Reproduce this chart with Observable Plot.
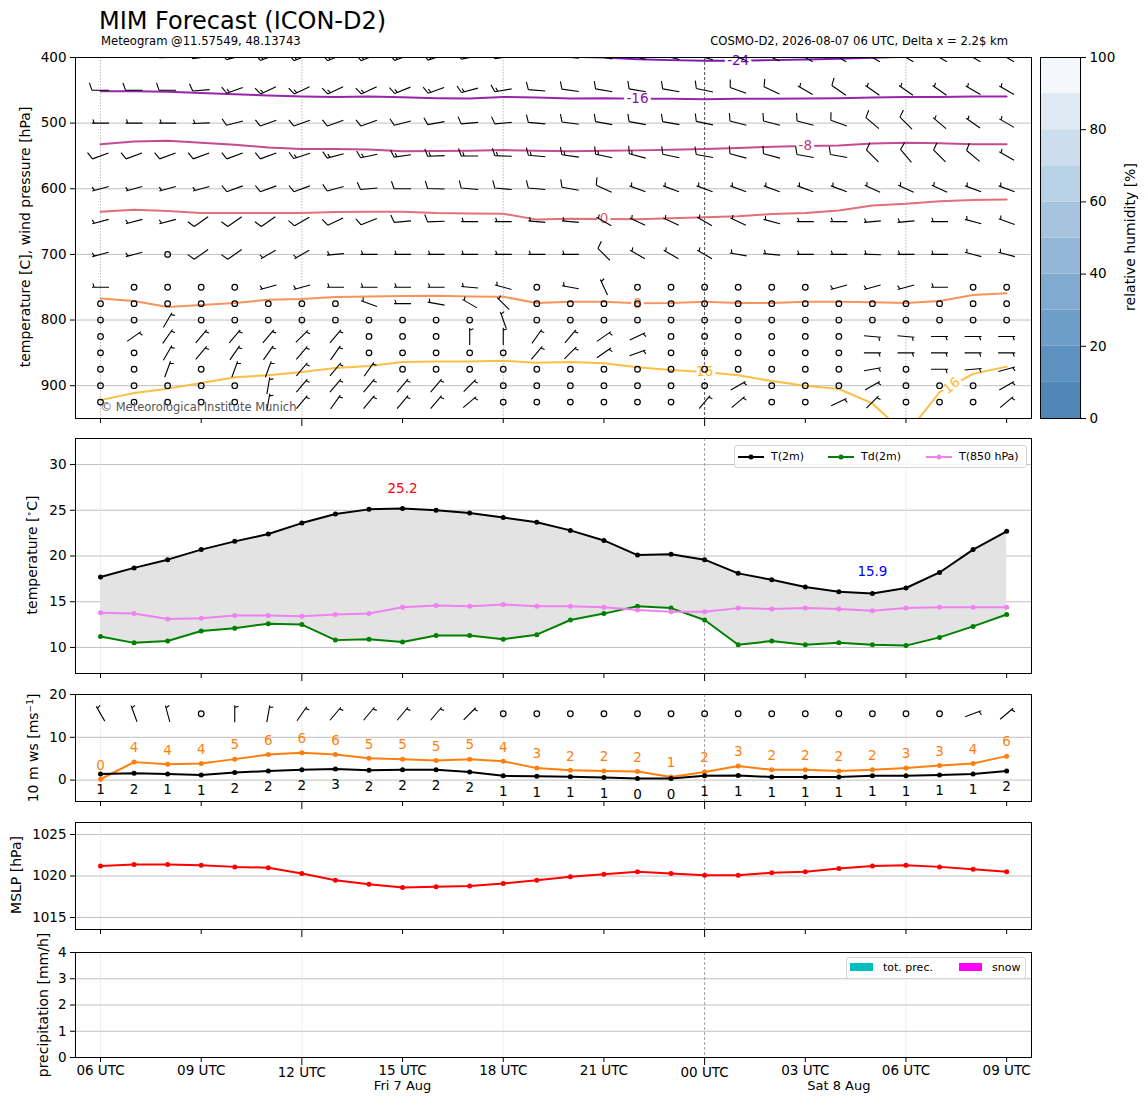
<!DOCTYPE html>
<html><head><meta charset="utf-8">
<script src="https://cdn.jsdelivr.net/npm/d3@7"></script>
<script src="https://cdn.jsdelivr.net/npm/@observablehq/plot@0.6"></script>
<style>
body{margin:0;background:#fff}
#fig{position:relative;width:1148px;height:1105px;font-family:"DejaVu Sans",sans-serif;color:#000;overflow:hidden;background:#fff}
.txt{position:absolute;white-space:nowrap;line-height:1}
.ylab{position:absolute;white-space:nowrap;font-size:14px;line-height:1;transform:translate(-50%,-50%) rotate(-90deg)}
.legend{position:absolute;border:1px solid #d5d5d5;border-radius:3px;background:rgba(255,255,255,0.85);font-size:11px;box-sizing:border-box}
.legend span{position:absolute;white-space:nowrap;line-height:1}
</style></head>
<body><div id="fig"></div>
<script>
// ---------------- data ----------------
const startTime = "2026-08-07T06:00Z";
const nHours = 28;

// 2 m temperature, dew point, 850 hPa temperature [°C]
const t2m  = [17.7,18.7,19.6,20.7,21.6,22.4,23.6,24.6,25.1,25.2,25.0,24.7,24.2,23.7,22.8,21.7,20.1,20.2,19.6,18.1,17.4,16.6,16.1,15.9,16.5,18.2,20.7,22.7];
const td2m = [11.2,10.5,10.7,11.8,12.1,12.6,12.5,10.8,10.9,10.6,11.3,11.3,10.9,11.4,13.0,13.7,14.5,14.3,13.0,10.3,10.7,10.3,10.5,10.3,10.2,11.1,12.3,13.6];
const t850 = [13.8,13.7,13.1,13.2,13.5,13.5,13.4,13.6,13.7,14.4,14.6,14.5,14.7,14.5,14.5,14.4,14.1,13.9,13.9,14.3,14.2,14.3,14.2,14.0,14.3,14.4,14.4,14.4];

// 10 m wind [m/s]: mean (black) and gust (orange)
const wsMean = [1.4,1.6,1.4,1.2,1.8,2.1,2.4,2.6,2.3,2.4,2.4,1.9,1.0,0.9,0.8,0.6,0.4,0.4,1.0,1.1,0.7,0.7,0.7,1.0,1.0,1.2,1.4,2.1];
const wsGust = [0.2,4.2,3.7,3.9,4.9,6.0,6.4,6.0,5.1,4.9,4.6,4.9,4.4,2.8,2.3,2.1,2.0,0.7,1.9,3.3,2.4,2.4,2.1,2.4,2.8,3.4,3.9,5.6];
// 10 m wind barbs: direction [deg], speed [kt] (0 = calm)
const dir10 = [330,340,345,0,360,10,35,40,40,40,40,45,0,0,0,0,0,0,0,0,0,0,0,0,0,0,70,50];
const spd10 = [5,5,5,0,5,5,5,5,5,5,5,5,0,0,0,0,0,0,0,0,0,0,0,0,0,0,5,5];
const sfcBarbLevel = 15.5;

// mean sea level pressure [hPa]
const mslp = [1021.2,1021.4,1021.4,1021.3,1021.1,1021.0,1020.3,1019.5,1019.0,1018.6,1018.7,1018.8,1019.1,1019.5,1019.9,1020.2,1020.5,1020.3,1020.1,1020.1,1020.4,1020.5,1020.9,1021.2,1021.3,1021.1,1020.8,1020.5];

// isotherms: pressure [hPa] of each temperature contour per hour
const isoTemps  = [-24,-16,-8,0,8,16];
const isoColors = ["#6a00a8","#8f0da4","#bd3786","#e0606a","#f5884a","#fdb82e"];
const iso_m24 = [397,397,397,397,397,397,397,397,397,397,397,397,397,398,399,400,402.5,404,405,405,404,403,402,400.5,399,398,397,397];
const iso_m16 = [451.5,451.5,452,454,456,458,459.5,460,459.5,460.5,462,462.5,460,461,462.5,462,463,463,463.5,463,463,462.5,462,461,460,460,459.5,459.5];
const iso_m8  = [532,528,527,530,533,537,539.5,539.5,540,543,542.5,542,541,542,543,542,541.5,540.5,539.5,538,536,535,534,531,530,530.5,532,532];
const iso_0   = [635,632,634,637,637,637,637,635.5,635,635,637,637.5,638,647,645.5,646,646.5,645,643.5,642,638.5,637,633,625.5,623,619,617,616.5];
const iso_8   = [767,771,780,777,774,769,768,765,764,763.5,763,764,764.5,774,772,772,774.5,774,772,774,774,772,772,773,774,771,762,759];
const iso_16  = [922,911,904.5,896,887,884,879,873,870,864,863,863,862,865,864,866,872,876,879,884,893,900,905,927,975,910,882,871];
const isoLines = [iso_m24, iso_m16, iso_m8, iso_0, iso_8, iso_16];
// contour label placements (isotherm index, hour, rotation)
const isoLabelAt = [[0,19,0],[1,16,0],[2,21,0],[3,15,0],[4,16,0],[5,18,0],[5,25.36,-40]];

// upper-air wind barbs: direction [deg], speed [kt]
const levels = [400,450,500,550,600,650,700,750,775,800,825,850,875,900,925];
const dir400 = [270,270,268,262,255,250,248,248,248,250,252,258,262,270,275,280,282,283,285,290,295,300,300,300,300,300,300,300];
const spd400 = [10,10,10,15,15,15,15,15,15,15,15,15,15,15,15,15,15,15,15,15,15,10,10,10,10,10,10,10];
const dir450 = [270,270,270,265,250,245,245,245,245,248,250,255,260,275,278,280,280,280,282,290,295,300,305,305,305,305,300,300];
const spd450 = [10,10,10,10,15,15,15,15,15,15,15,15,15,10,10,10,10,10,10,10,10,5,10,5,5,5,5,5];
const dir500 = [270,270,270,268,255,250,250,250,250,255,260,265,265,275,278,280,280,280,282,285,285,285,290,310,315,310,305,300];
const spd500 = [5,5,5,5,10,10,10,10,10,10,10,10,10,10,10,10,10,10,10,10,10,10,10,10,10,5,5,5];
const dir550 = [250,250,250,250,250,250,252,255,258,262,268,270,272,275,278,282,285,282,280,285,285,280,280,315,320,315,310,300];
const spd550 = [10,10,10,10,10,10,15,15,15,15,15,15,15,15,15,15,15,10,10,10,10,10,10,10,10,10,10,5];
const dir600 = [255,255,255,255,250,250,250,255,265,270,272,275,275,275,280,295,290,290,290,290,290,290,290,295,295,295,290,290];
const spd600 = [5,5,5,5,10,10,10,10,10,10,10,10,10,10,10,10,5,5,5,5,5,5,5,5,5,5,5,5];
const dir650 = [255,255,255,235,235,235,240,245,248,265,268,270,270,275,275,300,295,295,300,295,285,270,270,265,265,270,285,290];
const spd650 = [5,5,5,10,10,10,10,10,10,10,10,5,5,5,5,5,5,5,5,5,5,5,5,5,5,5,5,5];
const dir700 = [255,255,0,235,235,240,240,265,270,270,270,270,270,270,270,315,300,300,300,280,275,270,270,272,270,270,285,285];
const spd700 = [5,5,0,10,10,5,5,5,5,5,5,5,5,5,5,10,5,5,5,5,5,5,5,5,5,5,5,5];
const dir750 = [270,0,0,0,0,255,255,270,270,270,270,275,285,0,280,335,0,0,0,0,0,0,255,255,255,270,0,0];
const spd750 = [5,0,0,0,0,5,5,5,5,5,5,5,5,0,5,5,0,0,0,0,0,0,5,5,5,5,0,0];
const dir775 = [0,0,0,0,0,0,0,0,290,270,280,300,315,0,0,0,0,0,0,0,0,0,0,0,0,0,0,0];
const spd775 = [0,0,0,0,0,0,0,0,5,5,5,5,5,0,0,0,0,0,0,0,0,0,0,0,0,0,0,0];
const dir800 = [0,0,30,0,0,0,0,0,0,0,0,0,340,0,0,0,0,0,0,0,0,0,0,0,0,0,0,0];
const spd800 = [0,0,5,0,0,0,0,0,0,0,0,0,5,0,0,0,0,0,0,0,0,0,0,0,0,0,0,0];
const dir825 = [0,55,35,40,40,40,45,40,0,0,0,360,360,35,40,55,65,0,0,0,0,0,0,95,95,90,90,90];
const spd825 = [0,5,5,5,5,5,5,5,0,0,0,5,5,5,5,5,5,0,0,0,0,0,0,5,5,5,5,5];
const dir850 = [0,0,30,40,35,35,40,35,0,0,0,0,0,40,45,55,70,0,0,0,0,0,0,90,90,90,90,90];
const spd850 = [0,0,5,5,5,5,5,5,0,0,0,0,0,5,5,5,5,0,0,0,0,0,0,5,5,5,5,5];
const dir875 = [0,0,20,0,20,20,40,40,35,0,0,0,0,0,0,0,0,0,0,0,0,0,0,80,0,90,85,75];
const spd875 = [0,0,5,0,5,5,5,5,5,0,0,0,0,0,0,0,0,0,0,0,0,0,0,5,0,5,5,5];
const dir900 = [0,0,0,0,0,10,40,40,40,40,40,45,0,0,0,0,0,0,0,60,0,0,0,60,0,0,0,60];
const spd900 = [0,0,0,0,0,5,5,5,5,5,5,5,0,0,0,0,0,0,0,5,0,0,0,5,0,0,0,5];
const dir925 = [0,0,0,0,0,10,40,35,40,40,40,50,0,0,0,0,0,0,40,50,0,0,65,45,0,0,0,50];
const spd925 = [0,0,0,0,0,5,5,5,5,5,5,5,0,0,0,0,0,0,5,5,0,0,5,5,0,0,0,5];
const windDirs = [dir400,dir450,dir500,dir550,dir600,dir650,dir700,dir750,dir775,dir800,dir825,dir850,dir875,dir900,dir925];
const windSpds = [spd400,spd450,spd500,spd550,spd600,spd650,spd700,spd750,spd775,spd800,spd825,spd850,spd875,spd900,spd925];

// relative humidity colour bar
const rhBounds = [0,10,20,30,40,50,60,70,80,90,100];
const rhColors = ["#5087b9","#5c91c0","#6d9dc8","#80aad0","#93b7d7","#a6c4de","#b9d2e6","#ccdeee","#dfe9f4","#f4f8fc"];
const rhTicks = [0,20,40,60,80,100];

// axes ticks
const pTicks = [400,500,600,700,800,900];
const tTicks = [10,15,20,25,30];
const wTicks = [0,10,20];
const mTicks = [1015,1020,1025];
const prTicks = [0,1,2,3,4];
const tickHours = [0,3,9,12,15,21,24,27];
const majorHours = [6,18];
const gridHours = [0,6,12,24];
const midnightHour = 18;
const dayLabels = [{h: 9, label: "Fri 7 Aug"}, {h: 22, label: "Sat 8 Aug"}];

// texts
const titleText = "MIM Forecast (ICON-D2)";
const subLeft = "Meteogram @11.57549, 48.13743";
const subRight = "COSMO-D2, 2026-08-07 06 UTC, Delta x = 2.2$ km";
const copyright = "© Meteorological Institute Munich";

// ---------------- helpers ----------------
const fig = document.getElementById("fig");
const t0 = new Date(startTime);
const hr = h => new Date(+t0 + h * 3600e3);
const times = d3.range(nHours).map(hr);
const xScale = {type: "utc", domain: [hr(-0.745), hr(27.74)]};
const W = 1040, ML = 75, MR = 9, MT = 10;
const S = {fontFamily: "'DejaVu Sans', sans-serif", fontSize: "13.5px", color: "#000", background: "transparent", overflow: "visible"};
const fmtUTC = d3.utcFormat("%H UTC");
const fmtInt = d3.format("d");

function xAxes(show) {
  const f = show ? fmtUTC : () => "";
  return [
    Plot.axisX(tickHours.map(hr), {tickSize: 5, tickPadding: 3, tickFormat: f, label: null}),
    Plot.axisX(majorHours.map(hr), {tickSize: 8, tickPadding: 2, tickFormat: f, label: null})
  ];
}
function vLines(dark) {
  return [
    Plot.ruleX(gridHours.map(hr), {stroke: dark ? "#aaa" : "#d8d8d8", strokeWidth: 0.8, strokeDasharray: dark ? "1.5,1.5" : "1,1"}),
    Plot.ruleX([hr(midnightHour)], {stroke: dark ? "#222" : "#888", strokeWidth: 0.8, strokeDasharray: "3,2"})
  ];
}
function barbShape(speed) {
  const nFull = Math.floor(speed / 10), half = speed % 10 >= 5;
  return {draw(ctx, l) {
    ctx.moveTo(0, 0); ctx.lineTo(0, -l);
    let y = -l;
    for (let k = 0; k < nFull; k++) { ctx.moveTo(0, y); ctx.lineTo(7.5, y - 2.6); y += 2.9; }
    if (half) { if (nFull === 0) y += 2.2; ctx.moveTo(0, y); ctx.lineTo(3.8, y - 1.3); }
  }};
}
function barbs(data, y, extra = {}) {
  const moving = data.filter(d => d.spd > 0);
  return [
    ...[5,10,15,20].map(c => Plot.vector(moving.filter(d => d.spd === c), {
      x: "t", y, rotate: "dir", length: 17, anchor: "middle", shape: barbShape(c),
      stroke: "#000", strokeWidth: 1.1, strokeLinecap: "butt", ...extra})),
    Plot.dot(data.filter(d => d.spd === 0), {x: "t", y, r: 2.8, stroke: "#000", strokeWidth: 1.2, fill: "none", ...extra})
  ];
}
function mk(opts, frameTop, frameH, mb, left = 0, w = W, ml = ML, mr = MR) {
  const p = Plot.plot({width: w, height: MT + frameH + mb, marginLeft: ml, marginRight: mr, marginTop: MT, marginBottom: mb, style: S, ...opts});
  p.style.position = "absolute"; p.style.left = left + "px"; p.style.top = (frameTop - MT) + "px";
  fig.appendChild(p);
  return p;
}
function addText(html, css, cls = "txt") {
  const d = document.createElement("div"); d.className = cls; d.innerHTML = html;
  Object.assign(d.style, css); fig.appendChild(d); return d;
}
const interp = (arr, h) => { const i = Math.floor(h), f = h - i; return i + 1 < arr.length ? arr[i] * (1 - f) + arr[i + 1] * f : arr[i]; };

// ---------------- panel 1: upper air ----------------
const upperWind = levels.flatMap((p, k) => times.map((t, i) => ({t, p, dir: windDirs[k][i], spd: windSpds[k][i]})));
const isoData = isoTemps.flatMap((T, k) => times.map((t, i) => ({t, p: isoLines[k][i], T, c: isoColors[k]})));
const isoLabels = isoLabelAt.map(([k, h, rot]) => ({t: hr(h), p: interp(isoLines[k], h), txt: String(isoTemps[k]), c: isoColors[k], rot}));

mk({x: xScale, y: {domain: [950, 400]}, color: {type: "identity"}, marks: [
  Plot.ruleY(pTicks.slice(1), {stroke: "#b0b0b0", strokeWidth: 0.8}),
  ...vLines(true),
  Plot.line(isoData, {x: "t", y: "p", z: "T", stroke: "c", strokeWidth: 2, strokeOpacity: 0.9, clip: true}),
  Plot.text(isoLabels, {x: "t", y: "p", text: "txt", fill: "c", stroke: "white", strokeWidth: 6, rotate: "rot", fontSize: 13.5}),
  ...barbs(upperWind, "p", {clip: true}),
  Plot.text([copyright], {frameAnchor: "bottom-left", textAnchor: "start", dx: 25, dy: -8, fill: "#555", fontSize: 11.5}),
  Plot.frame({stroke: "#000"}),
  Plot.axisY(pTicks, {tickSize: 5, tickPadding: 4, label: null}),
  ...xAxes(false)
]}, 57, 361, 12);

// colour bar
const rhBands = rhColors.map((c, i) => ({lo: rhBounds[i], hi: rhBounds[i + 1], c}));
mk({x: {domain: [0, 1], axis: null}, y: {domain: [0, 100]}, color: {type: "identity"}, marks: [
  Plot.rect(rhBands, {x1: 0, x2: 1, y1: "lo", y2: "hi", fill: "c"}),
  Plot.frame({stroke: "#000"}),
  Plot.axisY(rhTicks, {anchor: "right", tickSize: 5, tickPadding: 4, label: null})
]}, 57, 361, 12, 1030, 118, 10, 68);

// ---------------- panel 2: temperature ----------------
const rows2 = times.map((t, i) => ({t, t2: t2m[i], td: td2m[i], t85: t850[i]}));
const iMax = d3.maxIndex(t2m), iMin = d3.minIndex(t2m);
mk({x: xScale, y: {domain: [7.15, 32.85]}, marks: [
  Plot.ruleY(tTicks, {stroke: "#b0b0b0", strokeWidth: 0.8}),
  ...vLines(false),
  Plot.areaY(rows2, {x: "t", y1: "td", y2: "t2", fill: "#e3e3e3"}),
  Plot.line(rows2, {x: "t", y: "td", stroke: "#008000", strokeWidth: 2}),
  Plot.dot(rows2, {x: "t", y: "td", fill: "#008000", r: 2.5}),
  Plot.line(rows2, {x: "t", y: "t85", stroke: "#ee82ee", strokeWidth: 2}),
  Plot.dot(rows2, {x: "t", y: "t85", fill: "#ee82ee", r: 2.5}),
  Plot.line(rows2, {x: "t", y: "t2", stroke: "#000", strokeWidth: 2}),
  Plot.dot(rows2, {x: "t", y: "t2", fill: "#000", r: 2.5}),
  Plot.text([rows2[iMax]], {x: "t", y: "t2", text: d => d.t2.toFixed(1), dy: -20, fill: "red", fontSize: 13.5}),
  Plot.text([rows2[iMin]], {x: "t", y: "t2", text: d => d.t2.toFixed(1), dy: -22, fill: "blue", fontSize: 13.5}),
  Plot.frame({stroke: "#000"}),
  Plot.axisY(tTicks, {tickSize: 5, tickPadding: 4, label: null}),
  ...xAxes(false)
]}, 438, 235, 12);

// ---------------- panel 3: 10 m wind ----------------
const rows3 = times.map((t, i) => ({t, ws: wsMean[i], gust: wsGust[i]}));
const sfcWind = times.map((t, i) => ({t, lev: sfcBarbLevel, dir: dir10[i], spd: spd10[i]}));
const f0 = d3.format(".0f");
mk({x: xScale, y: {domain: [-5, 20]}, marks: [
  Plot.ruleY(wTicks, {stroke: "#b0b0b0", strokeWidth: 0.8}),
  ...vLines(false),
  Plot.line(rows3, {x: "t", y: "gust", stroke: "#ff7f0e", strokeWidth: 2}),
  Plot.dot(rows3, {x: "t", y: "gust", fill: "#ff7f0e", r: 2.5}),
  Plot.line(rows3, {x: "t", y: "ws", stroke: "#000", strokeWidth: 2}),
  Plot.dot(rows3, {x: "t", y: "ws", fill: "#000", r: 2.5}),
  Plot.text(rows3, {x: "t", y: "gust", text: d => f0(d.gust), dy: -14, fill: "#ff7f0e", fontSize: 13.5}),
  Plot.text(rows3, {x: "t", y: "ws", text: d => f0(d.ws), dy: 16, fill: "#000", fontSize: 13.5}),
  ...barbs(sfcWind, "lev"),
  Plot.frame({stroke: "#000"}),
  Plot.axisY(wTicks, {tickSize: 5, tickPadding: 4, label: null}),
  ...xAxes(false)
]}, 694, 107, 12);

// ---------------- panel 4: MSLP ----------------
const rows4 = times.map((t, i) => ({t, p: mslp[i]}));
mk({x: xScale, y: {domain: [1013.55, 1026.45]}, marks: [
  Plot.ruleY(mTicks, {stroke: "#b0b0b0", strokeWidth: 0.8}),
  ...vLines(false),
  Plot.line(rows4, {x: "t", y: "p", stroke: "#ff0000", strokeWidth: 2}),
  Plot.dot(rows4, {x: "t", y: "p", fill: "#ff0000", r: 2.5}),
  Plot.frame({stroke: "#000"}),
  Plot.axisY(mTicks, {tickSize: 5, tickPadding: 4, tickFormat: fmtInt, label: null}),
  ...xAxes(false)
]}, 822, 107, 12);

// ---------------- panel 5: precipitation ----------------
mk({x: xScale, y: {domain: [0, 4]}, marks: [
  Plot.ruleY(prTicks.slice(1, 4), {stroke: "#b0b0b0", strokeWidth: 0.8}),
  ...vLines(false),
  Plot.frame({stroke: "#000"}),
  Plot.axisY(prTicks, {tickSize: 5, tickPadding: 4, label: null}),
  ...xAxes(true),
  Plot.text(dayLabels, {x: d => hr(d.h), text: "label", frameAnchor: "bottom", dy: 32, fontSize: 13})
]}, 952, 105, 48);

// ---------------- texts ----------------
addText(titleText, {left: "99px", top: "9px", fontSize: "24px"});
addText(subLeft, {left: "101px", top: "36px", fontSize: "11.6px"});
addText(subRight, {right: "140px", top: "36px", fontSize: "11.6px"});
const yLabels = [
  ["temperature [C], wind pressure [hPa]", 25, 237],
  ["temperature [<sup style='font-size:9px'>∘</sup>C]", 32, 555],
  ["10 m ws [ms<sup style='font-size:9px'>−1</sup>]", 33, 748],
  ["MSLP [hPa]", 16, 875],
  ["precipitation [mm/h]", 43, 1005],
  ["relative humidity [%]", 1130, 237]
];
yLabels.forEach(([t, x, y]) => addText(t, {left: x + "px", top: y + "px"}, "ylab"));

// legends
const leg2 = [["T(2m)", "#000"], ["Td(2m)", "#008000"], ["T(850 hPa)", "#ee82ee"]];
const leg2Pos = [[3, 36], [93, 126], [191, 224]];
const box2 = addText("", {left: "734px", top: "445px", width: "293px", height: "23px"}, "legend");
leg2.forEach(([lab, col], i) => {
  const [sx, tx] = leg2Pos[i];
  box2.insertAdjacentHTML("beforeend",
    `<svg style="position:absolute;left:${sx}px;top:6px" width="26" height="10"><line x1="0" x2="26" y1="5" y2="5" stroke="${col}" stroke-width="2"/><circle cx="13" cy="5" r="2.5" fill="${col}"/></svg><span style="left:${tx}px;top:5px">${lab}</span>`);
});
const leg5 = [["tot. prec.", "#00bfbf"], ["snow", "#ff00ff"]];
const leg5Pos = [[3, 36], [112, 145]];
const box5 = addText("", {left: "846px", top: "957px", width: "180px", height: "22px"}, "legend");
leg5.forEach(([lab, col], i) => {
  const [sx, tx] = leg5Pos[i];
  box5.insertAdjacentHTML("beforeend",
    `<div style="position:absolute;left:${sx}px;top:5px;width:23px;height:8px;background:${col}"></div><span style="left:${tx}px;top:4px">${lab}</span>`);
});
</script></body></html>
